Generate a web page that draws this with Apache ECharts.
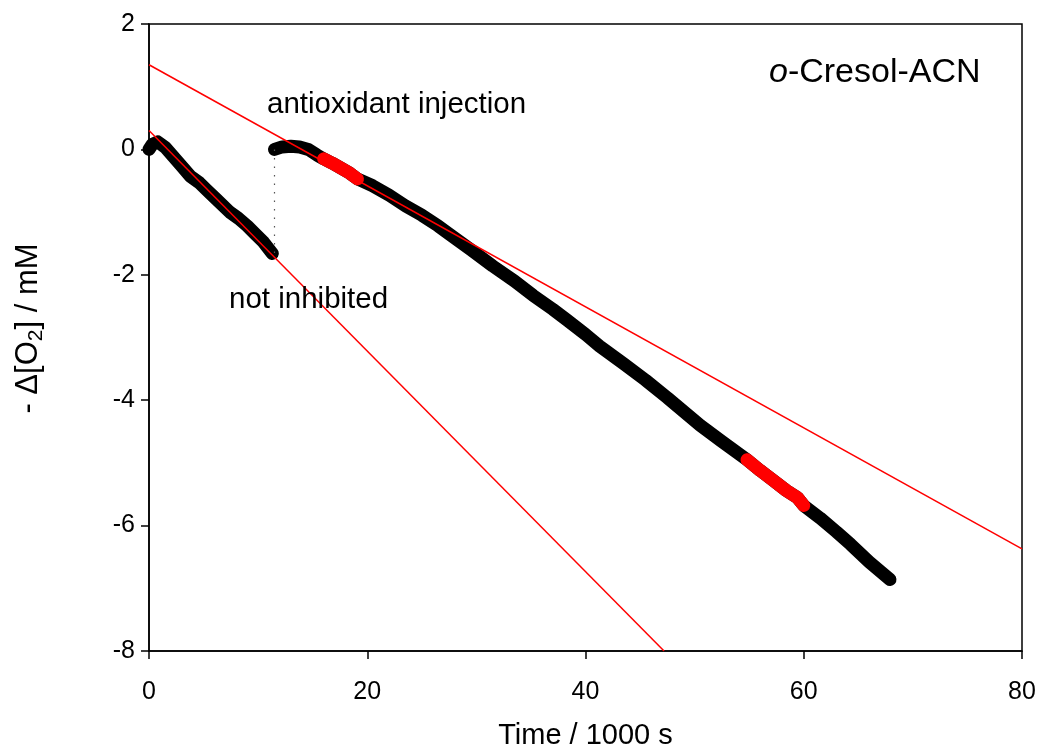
<!DOCTYPE html>
<html>
<head>
<meta charset="utf-8">
<script src="https://cdn.jsdelivr.net/npm/echarts@6/dist/echarts.min.js"></script>
<style>
html,body{margin:0;padding:0;background:#fff;}
#c{width:1041px;height:755px;}
</style>
</head>
<body>
<div id="c"></div>
<script>
// ---- data (time in 1000 s, -Δ[O2] in mM) ----
const xTicks = [0, 20, 40, 60, 80];
const yTicks = [-8, -6, -4, -2, 0, 2];

// not-inhibited run
const run1T = [0, 0.3, 0.8, 1.5, 2.2, 3.0, 3.8, 4.6, 5.3, 6.2, 7.4, 8.2, 9.0, 9.8, 10.5, 11.3];
const run1Y = [0.0, 0.08, 0.12, 0.03, -0.11, -0.27, -0.43, -0.53, -0.65, -0.80, -1.00, -1.10, -1.22, -1.36, -1.48, -1.66];

// after antioxidant injection
const run2T = [11.5, 12.2, 13.0, 13.8, 14.6, 15.4, 16.0, 16.8, 17.6, 18.4, 19.1, 20.5, 22.0, 23.5, 25.0, 26.5, 27.6, 29.5, 31.5, 33.5, 35.2, 37.0, 38.3, 40.0, 41.3, 43.5, 45.5, 47.5, 49.0, 50.5, 52.5, 54.8, 56.0, 57.2, 58.4, 59.4, 60.0, 61.5, 63.0, 64.3, 66.0, 67.9];
const run2Y = [0.0, 0.04, 0.05, 0.04, 0.0, -0.09, -0.15, -0.22, -0.30, -0.38, -0.47, -0.58, -0.73, -0.90, -1.05, -1.22, -1.36, -1.60, -1.86, -2.10, -2.33, -2.55, -2.72, -2.95, -3.14, -3.42, -3.68, -3.96, -4.18, -4.40, -4.66, -4.95, -5.12, -5.28, -5.44, -5.55, -5.68, -5.88, -6.10, -6.30, -6.58, -6.86];

// highlighted (red) points used for the fits
const hiAT = [16.0, 16.8, 17.6, 18.4, 19.1];
const hiAY = [-0.15, -0.22, -0.30, -0.38, -0.47];
const hiBT = [54.8, 56.0, 57.2, 58.4, 59.4, 60.0];
const hiBY = [-4.95, -5.12, -5.28, -5.44, -5.55, -5.68];

// fitted lines (endpoints)
const fit1T = [0, 47.2];
const fit1Y = [0.30, -8.0];
const fit2T = [0, 80];
const fit2Y = [1.35, -6.37];

// injection marker
const injT = [11.5, 11.5];
const injY = [0.0, -1.68];

const zip = (a, b) => a.map((v, i) => [v, b[i]]);

const FONT = '"Liberation Sans", Arial, sans-serif';
const chart = echarts.init(document.getElementById('c'), null, {renderer: 'canvas'});

const dataStyle = (color) => ({
  type: 'line', symbol: 'none', silent: true, animation: false,
  lineStyle: {color: color, width: 13, cap: 'round', join: 'round'}
});

chart.setOption({
  backgroundColor: '#fff',
  animation: false,
  grid: {left: 149, right: 19, top: 24, bottom: 101, show: true, borderColor: '#000', borderWidth: 1.5, backgroundColor: 'transparent'},
  xAxis: {
    type: 'value', min: xTicks[0], max: xTicks[xTicks.length - 1], interval: 20,
    name: 'Time / 1000 s', nameLocation: 'middle', nameGap: 70,
    nameTextStyle: {fontFamily: FONT, fontSize: 29, color: '#000'},
    axisLine: {onZero: false, lineStyle: {color: '#000', width: 1.5}},
    axisTick: {inside: false, length: 8, lineStyle: {color: '#000', width: 1.5}},
    axisLabel: {fontFamily: FONT, fontSize: 25, color: '#000', margin: 29},
    splitLine: {show: false}
  },
  yAxis: {
    type: 'value', min: yTicks[0], max: yTicks[yTicks.length - 1], interval: 2,
    name: '- Δ[O{sub|2}] / mM', nameLocation: 'middle', nameGap: 102, nameRotate: 90,
    nameTextStyle: {fontFamily: FONT, fontSize: 31, color: '#000', lineHeight: 38, padding: [0, 0, 0, 18],
      rich: {sub: {fontFamily: FONT, fontSize: 21, color: '#000', lineHeight: 21, verticalAlign: 'bottom'}}},
    axisLine: {onZero: false, lineStyle: {color: '#000', width: 1.5}},
    axisTick: {inside: false, length: 8, lineStyle: {color: '#000', width: 1.5}},
    axisLabel: {fontFamily: FONT, fontSize: 25, color: '#000', margin: 14},
    splitLine: {show: false}
  },
  series: [
    Object.assign(dataStyle('#000'), {data: zip(run1T, run1Y), z: 2}),
    Object.assign(dataStyle('#000'), {data: zip(run2T, run2Y), z: 2}),
    Object.assign(dataStyle('#ff0000'), {data: zip(hiAT, hiAY), z: 3}),
    Object.assign(dataStyle('#ff0000'), {data: zip(hiBT, hiBY), z: 3}),
    {type: 'line', symbol: 'none', silent: true, z: 4, data: zip(injT, injY),
      lineStyle: {color: '#555', width: 1.2, type: [1.5, 7]}},
    {type: 'line', symbol: 'none', silent: true, z: 5, clip: true, data: zip(fit1T, fit1Y),
      lineStyle: {color: '#ff0000', width: 1.5}},
    {type: 'line', symbol: 'none', silent: true, z: 5, clip: true, data: zip(fit2T, fit2Y),
      lineStyle: {color: '#ff0000', width: 1.5}}
  ],
  graphic: [
    {type: 'text', left: 267, top: 90, z: 10,
      style: {text: 'antioxidant injection', fontFamily: FONT, fontSize: 29.5, fill: '#000'}},
    {type: 'text', left: 229, top: 285, z: 10,
      style: {text: 'not inhibited', fontFamily: FONT, fontSize: 29.5, fill: '#000'}},
    {type: 'text', left: 769, top: 56, z: 10,
      style: {text: '{i|o}-Cresol-ACN', fontFamily: FONT, fontSize: 34, fill: '#000',
        rich: {i: {fontStyle: 'italic', fontFamily: FONT, fontSize: 34, fill: '#000'}}}}
  ]
});
</script>
</body>
</html>
